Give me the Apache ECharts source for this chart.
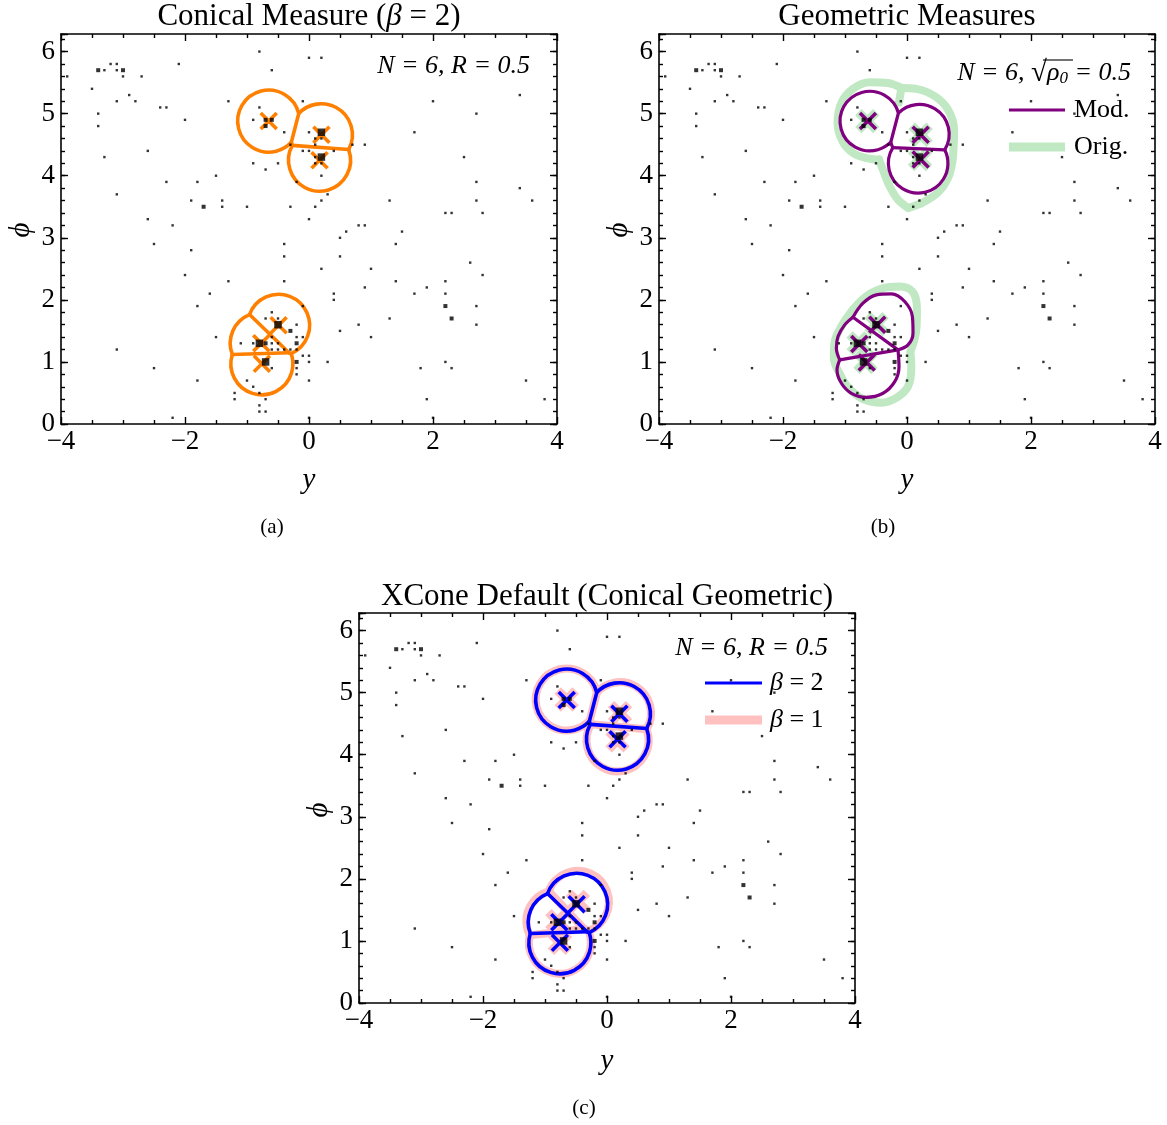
<!DOCTYPE html>
<html><head><meta charset="utf-8">
<script src="https://cdn.jsdelivr.net/npm/echarts@6/dist/echarts.min.js"></script>
<style>html,body{margin:0;padding:0;background:#fff;}#c{width:1167px;height:1125px;}</style>
</head><body><div id="c"></div>
<script>
// ---------------- data ----------------
const xTickValues = [-4, -2, 0, 2, 4];
const yTickValues = [0, 1, 2, 3, 4, 5, 6];
const phiMax = 2 * Math.PI;

const particleSmall = [
[-0.8,6.0],[-0.6,5.7],[-3.3,5.7],[-3.2,5.8],[-3.1,5.8],[-3.1,5.7],[-3.0,5.6],[-3.9,5.6],[-2.7,5.6],[-2.1,5.8],
[-3.5,5.4],[-2.9,5.3],[-3.1,5.2],[-2.8,5.2],[-2.4,5.1],[-2.3,5.1],[-1.3,5.2],[-0.8,5.1],[-0.1,5.2],[0.0,5.9],
[0.2,5.9],[-3.4,5.0],[-2.0,4.9],[-3.4,4.8],[-0.9,4.9],[-0.4,4.7],[0.0,4.7],[-0.3,4.5],[-2.6,4.4],[-0.1,4.4],
[0.0,4.4],[-3.3,4.3],[-0.9,4.2],[-0.5,4.2],[-0.7,4.1],[-1.5,4.0],[-2.3,3.9],[-1.8,3.9],[-0.2,3.9],[-3.1,3.7],
[-1.9,3.6],[-1.4,3.6],[-1.4,3.5],[-1.0,3.5],[-0.3,3.5],[0.0,3.3],[-2.6,3.3],[-2.2,3.2],[-2.5,2.9],[-1.9,2.8],
[-0.4,2.9],[-0.4,2.7],[-0.4,2.3],[-2.0,2.4],[-1.3,2.3],[-1.6,2.1],[-1.8,1.9],[-0.1,1.9],[-1.5,1.4],[-3.1,1.2],
[-2.5,0.9],[-1.8,0.7],[-2.2,0.1],[-0.6,1.8],[-0.5,1.7],[-0.7,1.7],[-0.2,1.6],[-0.2,1.4],[-0.1,1.4],[-0.6,1.4],
[-0.6,1.3],[-0.5,1.3],[-1.1,1.3],[-0.9,1.3],[-0.6,1.2],[-0.5,1.2],[-0.4,1.2],[-0.3,1.2],[-0.2,1.2],[0.0,1.1],
[-0.1,1.1],[0.0,1.0],[-0.2,0.9],[-0.2,0.8],[-0.6,0.9],[0.0,0.7],[-1.0,0.7],[-0.9,0.6],[-1.2,0.5],[-1.2,0.4],
[-0.8,0.5],[-0.7,0.4],[-0.8,0.3],[-0.8,0.2],[-0.7,0.2],[0.4,2.1],[0.4,2.0],[0.5,1.5],[0.3,1.0],[0.0,0.1],
[2.5,4.3],[2.7,3.9],[3.4,3.8],[2.7,3.6],[3.6,3.6],[2.2,3.4],[2.3,3.4],[2.8,3.4],[0.2,3.6],[1.3,3.6],
[0.3,3.7],[0.1,3.5],[0.8,3.2],[0.9,3.2],[0.6,3.1],[1.5,3.1],[0.5,3.0],[1.4,2.9],[0.5,2.7],[2.6,2.6],
[0.2,2.5],[1.0,2.5],[2.8,2.4],[1.4,2.3],[2.2,2.3],[0.9,2.2],[1.9,2.2],[1.7,2.1],[2.2,2.1],[2.7,1.9],
[1.3,1.7],[0.8,1.6],[2.7,1.6],[1.0,1.4],[2.2,1.0],[1.8,0.9],[2.3,0.9],[3.5,0.7],[1.9,0.4],[3.8,0.4],
[2.0,0.1],[0.1,4.3],[0.4,4.4],[0.2,4.2],[0.2,4.0],[0.1,4.6],[0.2,4.6],[0.1,4.5],[0.7,4.5],[0.9,4.5],
[0.1,4.2],[2.0,5.2],[2.7,5.0],[3.4,5.3],[1.7,4.7]
];
const particleMedium = [[-3.4,5.7],[-3.0,5.7],[-0.7,4.9],[-0.6,4.9],[-0.7,4.8],[-1.7,3.5],[-0.3,1.5],[-0.2,1.3],[-0.2,1.0],[-0.7,1.3],[2.2,1.9],[2.3,1.7]];
const particleHard = [[0.2,4.7],[0.2,4.3],[-0.5,1.6],[-0.8,1.3],[-0.7,1.0]];

const coneRadius = 0.5;
const jetAxesConical = [[-0.65,4.88],[0.20,4.66],[0.17,4.25],[-0.49,1.59],[-0.77,1.30],[-0.76,0.97]];
const jetAxesBeta1   = [[-0.65,4.89],[0.21,4.67],[0.17,4.23],[-0.47,1.63],[-0.80,1.32],[-0.76,0.97]];
const jetAxesMod     = [[-0.63,4.88],[0.22,4.66],[0.22,4.26],[-0.48,1.60],[-0.77,1.29],[-0.65,0.99]];
const jetAxesOrig    = [[-0.64,4.88],[0.22,4.66],[0.21,4.27],[-0.49,1.61],[-0.78,1.30],[-0.67,1.00]];
const modTopRegionCenters = [[-0.60,4.88],[0.20,4.67],[0.18,4.20]];
const modRadius = 0.48;

const modBotUpperArc = [[-0.871,1.721],[-0.71,1.946],[-0.494,2.081],[-0.252,2.097],[-0.037,1.973],[0.087,1.731],[0.097,1.463],[0.016,1.274],[-0.145,1.194]];
const modBotDiagonal = [[-0.871,1.721],[-0.145,1.194]];
const modBotMiddleArc = [[-0.871,1.721],[-1.005,1.597],[-1.113,1.409],[-1.139,1.221],[-1.085,1.032]];
const modBotSplit = [[-1.085,1.032],[-0.145,1.194]];
const modBotLowerArc = [[-1.085,1.032],[-1.129,0.871],[-1.058,0.656],[-0.897,0.495],[-0.655,0.430],[-0.387,0.495],[-0.198,0.682],[-0.129,0.924],[-0.145,1.194]];

const origTopLeftA = [[0.02,3.48],[-0.15,3.62],[-0.28,3.83],[-0.39,4.10],[-0.45,4.26]];
const origTopLeftB = [[-0.45,4.26],[-0.655,4.285],[-0.87,4.366],[-1.04,4.553],[-1.12,4.85],[-1.06,5.17],[-0.87,5.40],[-0.60,5.505],[-0.31,5.495],[-0.09,5.415]];
const origTopRight = [[-0.09,5.415],[0.15,5.40],[0.45,5.28],[0.66,5.065],[0.76,4.74],[0.75,4.45],[0.73,4.205],[0.66,3.96],[0.50,3.73],[0.26,3.57],[0.02,3.48]];
const origTopSplit = [[-0.09,5.415],[-0.13,5.18]];
const origBottom = [[0.055,1.166],[0.07,0.914],[0.02,0.613],[-0.16,0.43],[-0.41,0.344],[-0.71,0.403],[-0.935,0.575],[-1.074,0.79],[-1.18,1.06],[-1.166,1.33],[-1.06,1.57],[-0.90,1.81],[-0.68,2.04],[-0.41,2.18],[-0.12,2.215],[0.09,2.13],[0.16,1.866],[0.15,1.516],[0.055,1.166]];

// ---------------- helpers ----------------
const SERIF = "'Liberation Serif','Times New Roman',serif";
const ORANGE = '#ff8000', PURPLE = '#800080', GREEN = '#bfe8c3', BLUE = '#0000ff', PINK = '#ffc0c0';

function regionBoundaries(centers, R) {
  const TWO_PI = 2 * Math.PI, arcs = [], segs = [], n = centers.length;
  for (let i = 0; i < n; i++) {
    const ex = [];
    for (let j = 0; j < n; j++) {
      if (j === i) continue;
      const dx = centers[j][0] - centers[i][0], dy = centers[j][1] - centers[i][1];
      const d = Math.hypot(dx, dy);
      if (d < 2 * R) {
        const th = Math.atan2(dy, dx), h = Math.acos(d / (2 * R));
        const a = (((th - h) % TWO_PI) + TWO_PI) % TWO_PI, b = a + 2 * h;
        if (b > TWO_PI) { ex.push([a, TWO_PI]); ex.push([0, b - TWO_PI]); } else ex.push([a, b]);
      }
    }
    ex.sort((p, q) => p[0] - q[0]);
    const merged = [];
    for (const e of ex) {
      if (merged.length && e[0] <= merged[merged.length - 1][1]) merged[merged.length - 1][1] = Math.max(merged[merged.length - 1][1], e[1]);
      else merged.push([e[0], e[1]]);
    }
    if (!merged.length) { arcs.push([centers[i][0], centers[i][1], R, 0, TWO_PI]); continue; }
    for (let k = 0; k < merged.length; k++) {
      const s = merged[k][1];
      const e = k + 1 < merged.length ? merged[k + 1][0] : merged[0][0] + TWO_PI;
      if (e - s > 1e-6) arcs.push([centers[i][0], centers[i][1], R, s, e]);
    }
  }
  for (let i = 0; i < n; i++) for (let j = i + 1; j < n; j++) {
    const ci = centers[i], cj = centers[j];
    const dx = cj[0] - ci[0], dy = cj[1] - ci[1], d = Math.hypot(dx, dy);
    if (d >= 2 * R) continue;
    const m = [(ci[0] + cj[0]) / 2, (ci[1] + cj[1]) / 2], u = [-dy / d, dx / d];
    const h = Math.sqrt(R * R - d * d / 4);
    let t0 = -h, t1 = h;
    for (let k = 0; k < n; k++) {
      if (k === i || k === j) continue;
      const ck = centers[k];
      const a = [ck[0] - ci[0], ck[1] - ci[1]];
      const b = (ck[0] * ck[0] + ck[1] * ck[1] - ci[0] * ci[0] - ci[1] * ci[1]) / 2;
      const au = a[0] * u[0] + a[1] * u[1], rhs = b - (a[0] * m[0] + a[1] * m[1]);
      if (Math.abs(au) < 1e-12) { if (rhs < 0) { t0 = 1; t1 = 0; } }
      else if (au > 0) t1 = Math.min(t1, rhs / au);
      else t0 = Math.max(t0, rhs / au);
    }
    if (t1 > t0) segs.push([m[0] + t0 * u[0], m[1] + t0 * u[1], m[0] + t1 * u[0], m[1] + t1 * u[1]]);
  }
  return { arcs, segs };
}

function arcSeries(gi, arcs, color, width, z) {
  return { type: 'custom', xAxisIndex: 2 * gi, yAxisIndex: 4 * gi, z, silent: true, data: arcs, encode: { x: 0, y: 1 },
    renderItem: (params, api) => {
      const c = api.coord([api.value(0), api.value(1)]);
      const s = api.size([api.value(2), api.value(2)]);
      return { type: 'arc', shape: { cx: c[0], cy: c[1], r: (s[0] + s[1]) / 2, startAngle: -api.value(3), endAngle: -api.value(4), clockwise: false },
        style: { stroke: color, lineWidth: width, fill: 'none' } };
    } };
}
function segSeries(gi, segs, color, width, z) {
  return { type: 'custom', xAxisIndex: 2 * gi, yAxisIndex: 4 * gi, z, silent: true, data: segs, encode: { x: [0, 2], y: [1, 3] },
    renderItem: (params, api) => {
      const p = api.coord([api.value(0), api.value(1)]), q = api.coord([api.value(2), api.value(3)]);
      return { type: 'line', shape: { x1: p[0], y1: p[1], x2: q[0], y2: q[1] }, style: { stroke: color, lineWidth: width, lineCap: 'round' } };
    } };
}
function crossSeries(gi, pts, color, width, half, z) {
  return { type: 'custom', xAxisIndex: 2 * gi, yAxisIndex: 4 * gi, z, silent: true, data: pts, encode: { x: 0, y: 1 },
    renderItem: (params, api) => {
      const p = api.coord([api.value(0), api.value(1)]);
      const st = { stroke: color, lineWidth: width };
      return { type: 'group', children: [
        { type: 'line', shape: { x1: p[0] - half, y1: p[1] - half, x2: p[0] + half, y2: p[1] + half }, style: st },
        { type: 'line', shape: { x1: p[0] - half, y1: p[1] + half, x2: p[0] + half, y2: p[1] - half }, style: st } ] };
    } };
}
function curveSeries(gi, pts, color, width, z) {
  return { type: 'line', xAxisIndex: 2 * gi, yAxisIndex: 4 * gi, z, silent: true, data: pts, smooth: 0.35, symbol: 'none',
    lineStyle: { color, width, cap: 'round', join: 'round' } };
}
function particleSeries(gi) {
  const mk = (data, size) => ({ type: 'scatter', xAxisIndex: 2 * gi, yAxisIndex: 4 * gi, z: 10, silent: true, data, symbol: 'rect', symbolSize: size, itemStyle: { color: '#000' } });
  return [mk(particleSmall, 2.4), mk(particleMedium, 4), mk(particleHard, 7.5)];
}

const grids = [
  { left: 61, top: 34, width: 496, height: 390 },
  { left: 659, top: 34, width: 496, height: 390 },
  { left: 359, top: 613, width: 496, height: 390 }
];
const TICKF = 27;
const axisLineStyle = { color: '#000', width: 1.6 };
const tickStyle = { color: '#000', width: 1.4 };
const xAxes = [], yAxes = [];
grids.forEach((g, gi) => {
  const xBase = { type: 'value', gridIndex: gi, min: xTickValues[0], max: xTickValues[xTickValues.length - 1], interval: 2,
    axisLine: { show: true, onZero: false, lineStyle: axisLineStyle },
    axisTick: { show: true, inside: true, length: 7, lineStyle: tickStyle },
    minorTick: { show: true, splitNumber: 4, length: 4, lineStyle: tickStyle },
    splitLine: { show: false }, minorSplitLine: { show: false } };
  xAxes.push(Object.assign({}, xBase, { position: 'bottom',
    axisLabel: { show: true, margin: 4, color: '#000', fontSize: TICKF, fontFamily: SERIF,
      formatter: v => xTickValues.includes(v) ? String(v).replace('-', '\u2212') : '' } }));
  xAxes.push(Object.assign({}, xBase, { position: 'top', axisLabel: { show: false } }));
  const yBase = { type: 'value', gridIndex: gi, min: 0, max: phiMax, splitLine: { show: false } };
  const majorLabel = { show: true, margin: 6, color: '#000', fontSize: TICKF, fontFamily: SERIF,
    formatter: v => { const r = Math.round(v); return (Math.abs(v - r) < 1e-6 && yTickValues.includes(r)) ? String(r) : ''; } };
  yAxes.push(Object.assign({}, yBase, { position: 'left', interval: 1, axisLine: { show: true, onZero: false, lineStyle: axisLineStyle },
    axisTick: { show: true, inside: true, length: 7, lineStyle: tickStyle }, axisLabel: majorLabel }));
  yAxes.push(Object.assign({}, yBase, { position: 'left', interval: 0.2, axisLine: { show: false, onZero: false },
    axisTick: { show: true, inside: true, length: 4, lineStyle: tickStyle }, axisLabel: { show: false } }));
  yAxes.push(Object.assign({}, yBase, { position: 'right', interval: 1, axisLine: { show: true, onZero: false, lineStyle: axisLineStyle },
    axisTick: { show: true, inside: true, length: 7, lineStyle: tickStyle }, axisLabel: { show: false } }));
  yAxes.push(Object.assign({}, yBase, { position: 'right', interval: 0.2, axisLine: { show: false, onZero: false },
    axisTick: { show: true, inside: true, length: 4, lineStyle: tickStyle }, axisLabel: { show: false } }));
});

const series = [];
// (a) conical beta=2
const regA = regionBoundaries(jetAxesConical, coneRadius);
series.push(arcSeries(0, regA.arcs, ORANGE, 3.6, 3), segSeries(0, regA.segs, ORANGE, 3.6, 3), crossSeries(0, jetAxesConical, ORANGE, 3.6, 8, 4));
series.push(...particleSeries(0));
// (b) geometric
[origTopLeftA, origTopLeftB, origTopRight, origTopSplit, origBottom].forEach(c => series.push(curveSeries(1, c, GREEN, 8, 1)));
series.push(crossSeries(1, jetAxesOrig, GREEN, 9, 9, 1));
const regB = regionBoundaries(modTopRegionCenters, modRadius);
series.push(arcSeries(1, regB.arcs, PURPLE, 3.2, 3), segSeries(1, regB.segs, PURPLE, 3.2, 3));
[modBotUpperArc, modBotDiagonal, modBotMiddleArc, modBotSplit, modBotLowerArc].forEach(c => series.push(curveSeries(1, c, PURPLE, 3.2, 3)));
series.push(crossSeries(1, jetAxesMod, PURPLE, 3.6, 8, 4));
series.push(...particleSeries(1));
// (c) XCone default
const regC1 = regionBoundaries(jetAxesBeta1, coneRadius);
series.push(arcSeries(2, regC1.arcs, PINK, 8, 1), segSeries(2, regC1.segs, PINK, 8, 1), crossSeries(2, jetAxesBeta1, PINK, 9, 9, 1));
const regC2 = regionBoundaries(jetAxesConical, coneRadius);
series.push(arcSeries(2, regC2.arcs, BLUE, 3.6, 3), segSeries(2, regC2.segs, BLUE, 3.6, 3), crossSeries(2, jetAxesConical, BLUE, 3.6, 8, 4));
series.push(...particleSeries(2));

function txt(x, y, text, font, align, extra) {
  return Object.assign({ type: 'text', x, y, silent: true, style: { text, font, fill: '#000', align: align || 'center', verticalAlign: 'middle', textAlign: align || 'center', textVerticalAlign: 'middle' } }, extra || {});
}
function rich(x, y, text, richStyles, align) {
  return { type: 'text', x, y, silent: true, style: { text, rich: richStyles, fill: '#000', align: align || 'center', verticalAlign: 'middle', textAlign: align || 'center', textVerticalAlign: 'middle' } };
}
function seg(x1, y1, x2, y2, color, w) { return { type: 'line', silent: true, shape: { x1, y1, x2, y2 }, style: { stroke: color, lineWidth: w } }; }

const F = s => s + 'px ' + SERIF, FI = s => 'italic ' + s + 'px ' + SERIF;
const TF = 31, AF = 26;
const graphic = [
  rich(309, 17, '{r|Conical Measure (}{i|\u03b2}{r| = 2)}', { r: { font: F(TF) }, i: { font: FI(TF) } }),
  txt(907, 17, 'Geometric Measures', F(TF)),
  txt(607, 597, 'XCone Default (Conical Geometric)', F(TF)),
  txt(272, 527, '(a)', F(21)), txt(883, 527, '(b)', F(21)), txt(584, 1108, '(c)', F(21)),
  txt(309, 480, 'y', FI(29)), txt(907, 480, 'y', FI(29)), txt(607, 1061, 'y', FI(29)),
  txt(21, 230, '\u03d5', FI(29), 'center', { rotation: Math.PI / 2 }),
  txt(619, 230, '\u03d5', FI(29), 'center', { rotation: Math.PI / 2 }),
  txt(319, 810, '\u03d5', FI(29), 'center', { rotation: Math.PI / 2 }),
  txt(530, 66, 'N = 6, R = 0.5', FI(AF), 'right'),
  txt(828, 648, 'N = 6, R = 0.5', FI(AF), 'right'),
  rich(1131, 73, '{a|N = 6, }{b|\u221a}{a|\u03c1}{s|0}{a| = 0.5}', { a: { font: FI(AF) }, b: { font: F(29) }, s: { font: FI(17), padding: [11, 0, 0, 0] } }, 'right'),
  seg(1043, 60, 1073, 60, '#000', 1.1),
  seg(1009, 110, 1065, 110, PURPLE, 3), txt(1074, 110, 'Mod.', F(AF), 'left'),
  seg(1009, 147, 1065, 147, GREEN, 9), txt(1074, 147, 'Orig.', F(AF), 'left'),
  seg(705, 683, 762, 683, BLUE, 3), rich(770, 683, '{i|\u03b2}{r| = 2}', { i: { font: FI(AF) }, r: { font: F(AF) } }, 'left'),
  seg(705, 720, 762, 720, PINK, 9), rich(770, 720, '{i|\u03b2}{r| = 1}', { i: { font: FI(AF) }, r: { font: F(AF) } }, 'left')
];

const chart = echarts.init(document.getElementById('c'), null, { renderer: 'canvas' });
chart.setOption({ animation: false, backgroundColor: '#fff', grid: grids, xAxis: xAxes, yAxis: yAxes, series, graphic });
</script></body></html>
